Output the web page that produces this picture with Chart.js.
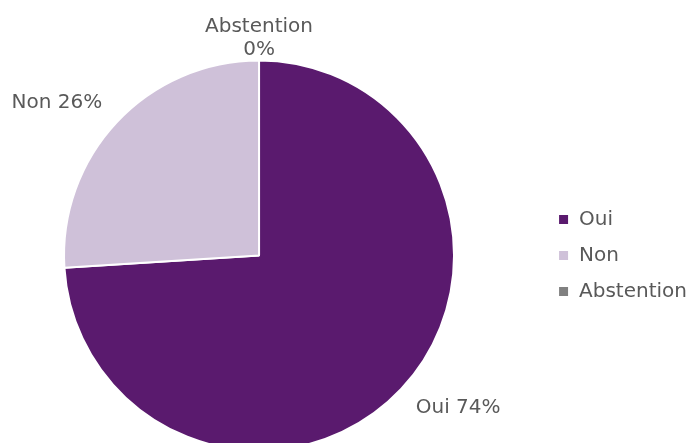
<!DOCTYPE html>
<html lang="fr">
<head>
    <meta charset="UTF-8">
    <title>Vote</title>
    <script src="https://cdn.jsdelivr.net/npm/chart.js"></script>
    <style>
        html, body { margin: 0; padding: 0; background: #fff; }
        #wrap { width: 686px; height: 443px; }
    </style>
</head>
<body>
    <div id="wrap"><canvas id="voteChart"></canvas></div>

    <script>
        const categories = ['Oui', 'Non', 'Abstention'];
        const values = [74, 26, 0];
        const colors = ['#5a1a6e', '#cfc1d9', '#808080'];

        const textColor = '#595959';
        const fontFamily = '"DejaVu Sans", Verdana, sans-serif';

        // the pie sits a bit left of the free space next to the legend
        const shiftPie = {
            id: 'shiftPie',
            afterLayout(chart) {
                chart.chartArea.left -= 12;
                chart.chartArea.right -= 12;
            }
        };

        // labels outside the pie, Excel style
        const outsideLabels = {
            id: 'outsideLabels',
            afterDatasetsDraw(chart) {
                const ctx = chart.ctx;
                const meta = chart.getDatasetMeta(0);
                const total = values.reduce((a, b) => a + b, 0);
                ctx.save();
                ctx.fillStyle = textColor;
                ctx.font = '20px ' + fontFamily;
                ctx.textBaseline = 'middle';
                meta.data.forEach((arc, i) => {
                    const mid = (arc.startAngle + arc.endAngle) / 2;
                    const r = arc.outerRadius + 20;
                    const dx = Math.cos(mid), dy = Math.sin(mid);
                    const x = arc.x + dx * r;
                    const y = arc.y + dy * (r + 8);
                    const pct = Math.round(values[i] / total * 100) + '%';
                    if (Math.abs(dx) < 0.2) {
                        ctx.textAlign = 'center';
                        ctx.fillText(categories[i], x, y - 6);
                        ctx.fillText(pct, x, y + 17);
                    } else {
                        ctx.textAlign = dx > 0 ? 'left' : 'right';
                        ctx.fillText(categories[i] + ' ' + pct, x, y);
                    }
                });
                ctx.restore();
            }
        };

        new Chart(document.getElementById('voteChart'), {
            type: 'pie',
            data: {
                labels: categories,
                datasets: [{
                    data: values,
                    backgroundColor: colors,
                    borderColor: '#ffffff',
                    borderWidth: 2
                }]
            },
            options: {
                responsive: true,
                maintainAspectRatio: false,
                animation: false,
                radius: 195,
                layout: {
                    padding: { top: 68, bottom: 0, left: 0, right: -11 }
                },
                plugins: {
                    legend: {
                        position: 'right',
                        labels: {
                            color: textColor,
                            font: { family: fontFamily, size: 20 },
                            boxWidth: 11,
                            boxHeight: 11,
                            padding: 16
                        }
                    },
                    tooltip: { enabled: false }
                }
            },
            plugins: [shiftPie, outsideLabels]
        });
    </script>
</body>
</html>
